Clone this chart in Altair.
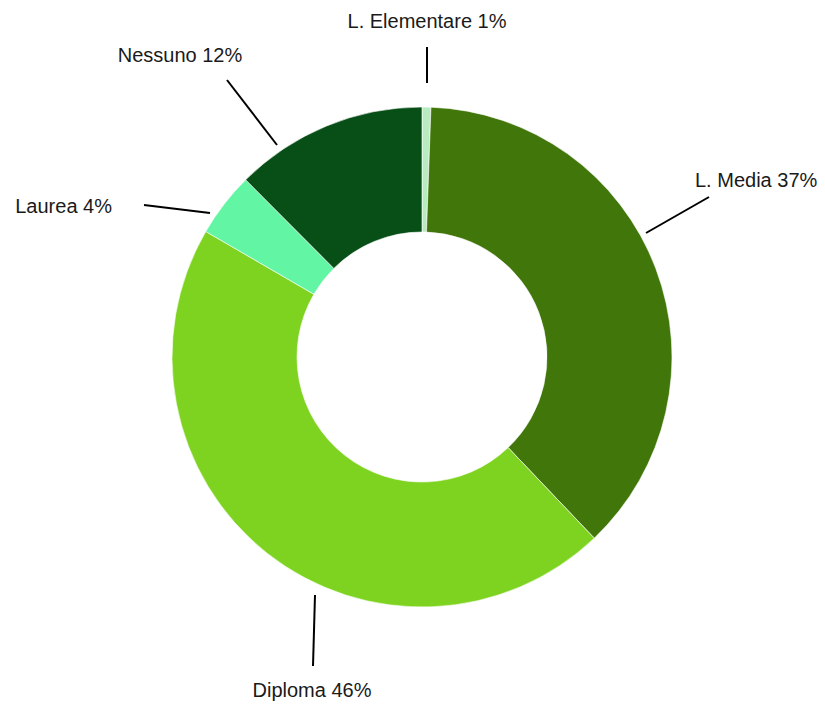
import altair as alt
import pandas as pd

categories = ["L. Elementare", "L. Media", "Diploma", "Laurea", "Nessuno"]
shares = [0.57, 37.33, 45.47, 4.17, 12.46]
label_pct = [1, 37, 46, 4, 12]
colors = ["#b8ecc0", "#41770a", "#7ed321", "#62f5a3", "#084f17"]

# Annotation layout: offsets (px) from the donut centre, y downward
lead_x1 = [5, 224, -107, -278, -195]
lead_y1 = [-310, -124, 238, -152, -277]
lead_x2 = [5, 287, -109, -212, -145]
lead_y2 = [-274, -160, 309, -144, -212]
text_x = [5, 273, -110, -310, -242]
text_y = [-329, -170, 340, -144, -295]
text_align = ["center", "left", "center", "right", "center"]

W, H = 809, 697
CX, CY = 414, 349  # centre in plot coordinates

df = pd.DataFrame({
    "idx": list(range(len(categories))),
    "cat": categories,
    "share": shares,
    "label": [f"{c} {p}%" for c, p in zip(categories, label_pct)],
    "x1": lead_x1, "y1": [-v for v in lead_y1],
    "x2": lead_x2, "y2": [-v for v in lead_y2],
    "tx": text_x, "ty": [-v for v in text_y],
    "align": text_align,
})

xs = alt.Scale(domain=[-CX, W - CX], range=[0, W])
ys = alt.Scale(domain=[-(H - CY), CY], range=[H, 0])

base = alt.Chart(df)

donut = base.mark_arc(
    outerRadius=250, innerRadius=125, stroke="#ffffff", strokeWidth=0.6
).encode(
    theta=alt.Theta("share:Q", stack=True),
    color=alt.Color("cat:N", scale=alt.Scale(domain=categories, range=colors), legend=None),
    order=alt.Order("idx:Q"),
    x=alt.value(CX),
    y=alt.value(CY),
)

leaders = base.mark_rule(color="#000000", strokeWidth=2).encode(
    x=alt.X("x1:Q", scale=xs, axis=None),
    y=alt.Y("y1:Q", scale=ys, axis=None),
    x2="x2:Q",
    y2="y2:Q",
)

def text_layer(align):
    return base.transform_filter(alt.datum.align == align).mark_text(
        font="Liberation Sans", fontSize=20, color="#1a1a1a",
        align=align, baseline="alphabetic"
    ).encode(
        x=alt.X("tx:Q", scale=xs, axis=None),
        y=alt.Y("ty:Q", scale=ys, axis=None),
        text="label:N",
    )

chart = alt.layer(
    donut, leaders, text_layer("center"), text_layer("left"), text_layer("right")
).properties(
    width=W, height=H, autosize=alt.AutoSizeParams(type="none"), padding=0
).configure_view(stroke=None)

chart.save("out.html", embed_options={"renderer": "svg", "actions": False})
